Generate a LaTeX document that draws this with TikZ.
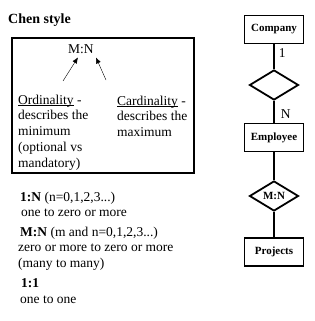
\documentclass[tikz,border=0pt]{standalone}
\usepackage{fontspec}
\setmainfont{Liberation Serif}
\usetikzlibrary{arrows.meta,shapes.geometric}

% underline close to the baseline
\newcommand{\uword}[1]{\setbox0\hbox{#1}\rlap{\rule[-1.6pt]{\wd0}{0.7pt}}\box0\relax}

\tikzset{
  entity/.style={draw, line width=1.8pt, minimum width=59pt, minimum height=28pt,
    inner sep=1pt, font=\fontsize{11}{13}\selectfont\bfseries},
  relation/.style={draw, diamond, aspect=1.6, line width=1.8pt, minimum width=49pt,
    minimum height=30pt, inner sep=0pt, font=\fontsize{11}{13}\selectfont\bfseries},
  link/.style={line width=1.8pt},
  txt/.style={anchor=base west, inner sep=0pt, align=left,
    font=\fontsize{13.5}{15.75}\selectfont},
}

\begin{document}
\begin{tikzpicture}[x=1pt, y=-1pt, >={Latex[length=6pt,width=5pt]}]
  \useasboundingbox (0,0) rectangle (315,321);

  % left side: notes (multi-line texts sit on their last baseline)
  \node[txt, font=\fontsize{14}{16}\selectfont\bfseries] (title) at (8,24) {Chen style};
  \draw[line width=1.8pt] (12,38) rectangle (194,173);
  \node[txt] (mn) at (68,54) {M:N};
  \node[txt] (ord) at (18,167) {\uword{Ordinality} -\\describes the\\minimum\\(optional vs\\mandatory)};
  \node[txt] (card) at (117,136.5) {\uword{Cardinality} -\\describes the\\maximum};
  \coordinate (ordtail) at (63,81);
  \coordinate (cardtail) at (106,80);
  \draw[->] (ordtail) -- ([xshift=-3pt,yshift=-3pt]mn.south);
  \draw[->] (cardtail) -- ([xshift=15pt,yshift=-3pt]mn.south);

  \node[txt] (onen) at (20,201) {\textbf{1:N} (n=0,1,2,3...)};
  \node[txt] (onenx) at (21,216) {one to zero or more};
  \node[txt] (mtn) at (20,236) {\textbf{M:N} (m and n=0,1,2,3...)};
  \node[txt] (mtnx) at (18,267) {zero or more to zero or more\\(many to many)};
  \node[txt] (oneone) at (21,287) {\textbf{1:1}};
  \node[txt] (oneonex) at (20,303) {one to one};

  % right side: example
  \node[entity] (company) at (274,29.5) {Company};
  \node[relation] (works) at (274,85) {};
  \node[entity] (employee) at (274,137.5) {Employee};
  \node[relation] (assigned) at (274,196) {M:N};
  \node[entity] (projects) at (274,252) {Projects};

  \draw[link] (company) -- node[txt, pos=0.35, anchor=west, xshift=4pt] {1} (works);
  \draw[link] (works) -- node[txt, pos=0.6, anchor=west, xshift=6pt] {N} (employee);
  \draw[link] (employee) -- (assigned);
  \draw[link] (assigned) -- (projects);
\end{tikzpicture}
\end{document}
